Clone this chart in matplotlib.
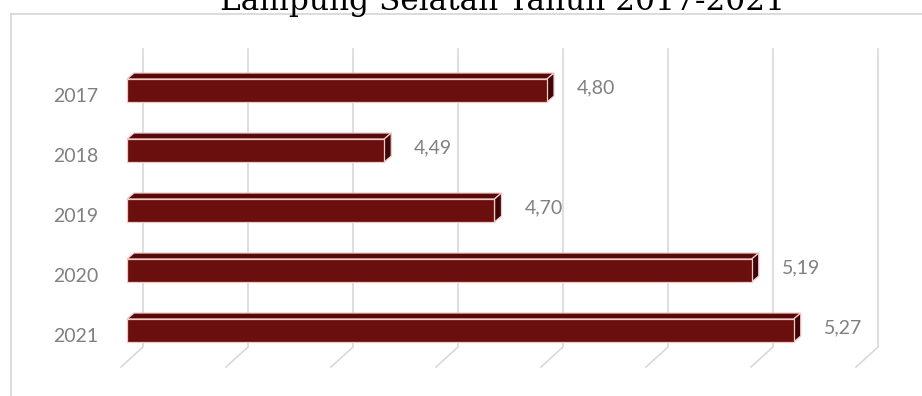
import matplotlib
matplotlib.use('Agg')
from matplotlib import pyplot as plt
from matplotlib.patches import Polygon, Rectangle
from matplotlib.lines import Line2D

# data
years = ['2017', '2018', '2019', '2020', '2021']
values = [4.80, 4.49, 4.70, 5.19, 5.27]
labels = ['4,80', '4,49', '4,70', '5,19', '5,27']
title = 'Lampung Selatan Tahun 2017-2021'

x_min = 4.0
ticks = [4.0, 4.2, 4.4, 4.6, 4.8, 5.0, 5.2, 5.4]

W, H = 922, 396
px_per_unit = 525.0   # x pixels per value unit
px_per_cat = 60.0     # y pixels per category
first_center = 90.5   # pixel row of the first bar centre

front_col = '#6b0e0e'
top_col = '#560a0a'
side_col = '#3e0606'
edge_col = '#f3caca'
grid_col = '#d9d9d9'
text_col = '#808080'


def px_x(p):
    return p / px_per_unit


def px_y(p):
    return p / px_per_cat


fig = plt.figure(figsize=(W / 100, H / 100), dpi=100)
ax = fig.add_axes([0, 0, 1, 1])
ax.set_xlim(x_min - px_x(127), x_min + px_x(W - 127))
ax.set_ylim(px_y(H - first_center), -px_y(first_center))
ax.axis('off')

# back wall / floor gridlines (3D look)
y_top = px_y(49 - first_center)
y_back = px_y(347 - first_center)
y_front = px_y(367 - first_center)
for t in ticks:
    xb = t + px_x(16)
    xf = t - px_x(6)
    ax.plot([xb, xb, xf], [y_top, y_back, y_front], color=grid_col, lw=1.2,
            solid_joinstyle='miter', zorder=1)

# 3D bars
half = px_y(11.5)
dx = px_x(7)
dy = -px_y(6)
for i, v in enumerate(values):
    y0 = i - half
    y1 = i + half
    top = Polygon([(x_min, y0), (v, y0), (v + dx, y0 + dy), (x_min + dx, y0 + dy)],
                  closed=True, facecolor=top_col, edgecolor=edge_col, lw=0.9, zorder=3)
    side = Polygon([(v, y0), (v + dx, y0 + dy), (v + dx, y1 + dy), (v, y1)],
                   closed=True, facecolor=side_col, edgecolor=edge_col, lw=0.9, zorder=3)
    front = Rectangle((x_min, y0), v - x_min, y1 - y0,
                      facecolor=front_col, edgecolor=edge_col, lw=0.9, zorder=4)
    ax.add_patch(top)
    ax.add_patch(side)
    ax.add_patch(front)
    ax.text(v + px_x(30), i - px_y(3), labels[i], color=text_col, fontsize=14,
            family='Lato', ha='left', va='center', zorder=5)
    ax.text(x_min - px_x(29), i + px_y(6.5), years[i], color=text_col, fontsize=14,
            family='Lato', ha='right', va='center', zorder=5)

# chart area border (only left and top visible in the crop)
bx = 11 / W
by = 1 - 14 / H
fig.add_artist(Line2D([bx, bx], [-0.1, by], color=grid_col, lw=1.3,
                      transform=fig.transFigure))
fig.add_artist(Line2D([bx, 1.1], [by, by], color=grid_col, lw=1.3,
                      transform=fig.transFigure))

# title, cut off by the top edge
fig.text(503 / W, 1 - 10 / H, title, family='DejaVu Serif', fontsize=22.5,
         color='black', ha='center', va='baseline')

fig.savefig('out.png', dpi=100)
